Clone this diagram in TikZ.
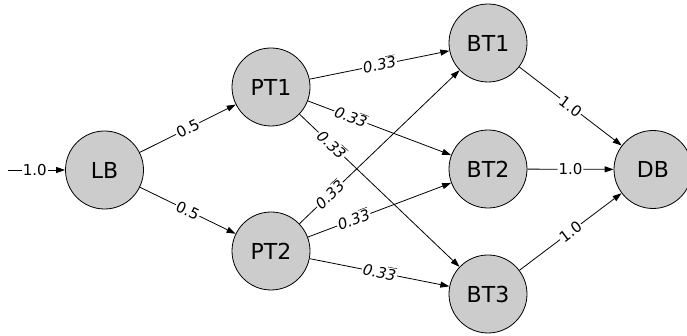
\documentclass[tikz,border=0pt]{standalone}
\usepackage{fontspec}
\setmainfont{DejaVu Sans}
\usetikzlibrary{arrows.meta}
\definecolor{nodegray}{HTML}{CCCCCC}
\newcommand{\thirdlbl}{{\itshape 0.3\smash{$\overline{\hbox{3}}$}}}
\begin{document}
\begin{tikzpicture}[x=1pt,y=1pt,
  state/.style={circle,draw=black,line width=0.8pt,fill=nodegray,minimum size=78pt,inner sep=0pt,font=\fontsize{22}{26}\selectfont},
  edge/.style={-{Triangle[length=9pt,width=6pt]},line width=0.8pt,black},
  lbl/.style={fill=white,inner sep=1pt,sloped,font=\fontsize{15}{18}\selectfont}]
\useasboundingbox (0,0) rectangle (687,336);
\node[state] (LB) at (104.5,166) {LB};
\node[state] (PT1) at (271,249) {PT1};
\node[state] (PT2) at (271,85) {PT2};
\node[state] (BT1) at (488,293) {BT1};
\node[state] (BT2) at (488,167) {BT2};
\node[state] (BT3) at (488,42) {BT3};
\node[state] (DB) at (653,166.5) {DB};
\coordinate (in) at (8,166);
\draw[edge] (in) -- node[lbl,pos=0.47]{1.0} (LB);
\draw[edge] (LB) -- node[lbl]{0.5} (PT1);
\draw[edge] (LB) -- node[lbl]{0.5} (PT2);
\draw[edge] (PT1) -- node[lbl]{\thirdlbl} (BT1);
\draw[edge] (PT1) -- node[lbl,pos=0.3]{\thirdlbl} (BT2);
\draw[edge] (PT1) -- node[lbl,pos=0.2]{\thirdlbl} (BT3);
\draw[edge] (PT2) -- node[lbl,pos=0.19]{\thirdlbl} (BT1);
\draw[edge] (PT2) -- node[lbl,pos=0.32]{\thirdlbl} (BT2);
\draw[edge] (PT2) -- node[lbl]{\thirdlbl} (BT3);
\draw[edge] (BT1) -- node[lbl]{1.0} (DB);
\draw[edge] (BT2) -- node[lbl]{1.0} (DB);
\draw[edge] (BT3) -- node[lbl]{1.0} (DB);
\end{tikzpicture}
\end{document}
